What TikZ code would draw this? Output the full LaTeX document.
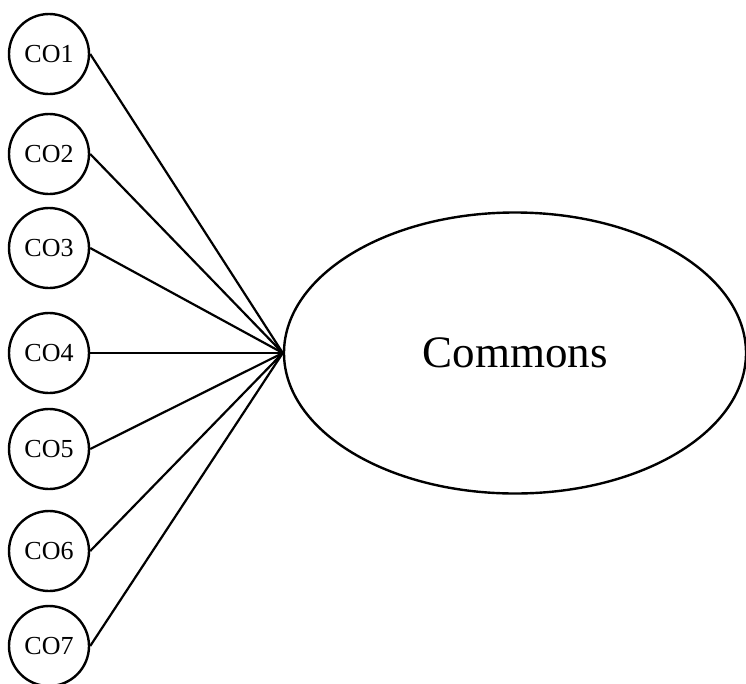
\documentclass[tikz,border=0pt]{standalone}
\usepackage{fontspec}
\setmainfont{Liberation Serif}
\usetikzlibrary{shapes.geometric}
\begin{document}
\begin{tikzpicture}[x=1pt,y=-1pt,
  conode/.style={draw,line width=2.4pt,circle,minimum size=80pt,inner sep=0pt,font=\fontsize{26}{26}\selectfont},
  bignode/.style={draw,line width=2.4pt,ellipse,minimum width=462pt,minimum height=281pt,inner sep=0pt,font=\fontsize{45}{45}\selectfont},
  link/.style={line width=2.2pt}]
\useasboundingbox (0,0) rectangle (746,683);
\node[bignode] (commons) at (515,353) {Commons};
\coordinate (hub) at (commons.west);
\foreach \i/\y in {1/54,2/154,3/248,4/353,5/449,6/551,7/646}{
  \node[conode] (co\i) at (49,\y) {CO\i};
  \draw[link] (co\i.east) -- (hub);
}
\end{tikzpicture}
\end{document}
